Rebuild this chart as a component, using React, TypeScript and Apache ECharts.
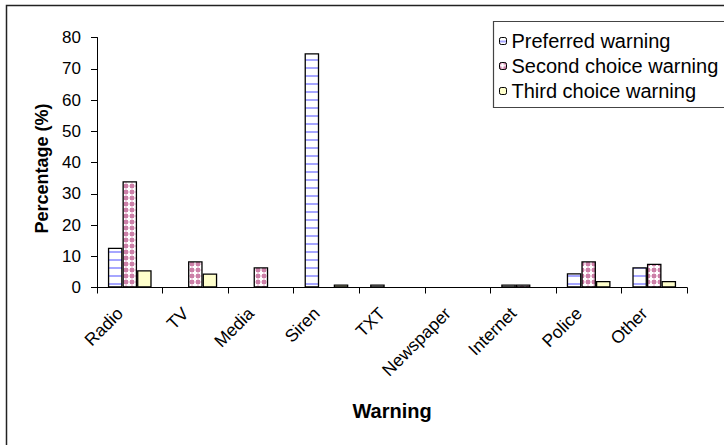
import React, { useEffect, useRef } from "react";
import * as echarts from "echarts";

const categories = ["Radio", "TV", "Media", "Siren", "TXT", "Newspaper", "Internet", "Police", "Other"];
const seriesNames = ["Preferred warning", "Second choice warning", "Third choice warning"];
const preferred = [12.7, 0, 0, 75, 1, 0, 1, 4.6, 6.5];
const secondChoice = [34, 8.4, 6.5, 0, 0, 0, 1, 8.4, 7.6];
const thirdChoice = [5.5, 4.5, 0, 1, 0, 0, 0, 2.1, 2.1];
const yTicks = [0, 10, 20, 30, 40, 50, 60, 70, 80];

const FONT = "Liberation Sans, Arial, sans-serif";

function stripePattern(): HTMLCanvasElement {
  const c = document.createElement("canvas");
  c.width = 8;
  c.height = 8;
  const ctx = c.getContext("2d")!;
  ctx.fillStyle = "#ffffff";
  ctx.fillRect(0, 0, 8, 8);
  ctx.fillStyle = "#a6a6ff";
  ctx.fillRect(0, 3, 8, 2);
  return c;
}

function crossPattern(): HTMLCanvasElement {
  const c = document.createElement("canvas");
  c.width = 6;
  c.height = 6;
  const ctx = c.getContext("2d")!;
  ctx.fillStyle = "#cc80a8";
  ctx.fillRect(0, 0, 6, 6);
  ctx.fillStyle = "#f0cfe0";
  ctx.fillRect(2, 0, 2, 6);
  ctx.fillRect(0, 2, 6, 2);
  ctx.fillStyle = "#ffffff";
  ctx.fillRect(2, 1, 2, 4);
  ctx.fillRect(1, 2, 4, 2);
  return c;
}

export default function App() {
  const ref = useRef<HTMLDivElement>(null);
  useEffect(() => {
    if (!ref.current) return;
    const chart = echarts.init(ref.current, null, { renderer: "svg" });
    const toBar = (arr: number[]) => arr.map((v) => (v === 0 ? "-" : v));
    const fills: any[] = [
      { image: stripePattern(), repeat: "repeat" },
      { image: crossPattern(), repeat: "repeat" },
      "#ffffcc",
    ];
    const datas = [preferred, secondChoice, thirdChoice];
    chart.setOption({
      animation: false,
      backgroundColor: "#ffffff",
      textStyle: { fontFamily: FONT },
      graphic: [
        {
          type: "rect",
          shape: { x: 6.5, y: 5.5, width: 800, height: 600 },
          style: { fill: "none", stroke: "#222", lineWidth: 1.5 },
          silent: true,
        },
        {
          type: "rect",
          shape: { x: 493.5, y: 21.5, width: 300, height: 86 },
          style: { fill: "#fff", stroke: "#444", lineWidth: 1.2 },
          silent: true,
          z: 1,
        },
      ],
      legend: {
        orient: "vertical",
        left: 499,
        top: 31,
        padding: 0,
        itemWidth: 7,
        itemHeight: 7,
        itemGap: 5,
        z: 10,
        data: seriesNames,
        itemStyle: { borderColor: "#000", borderWidth: 1 },
        textStyle: { fontFamily: FONT, fontSize: 20, color: "#000", lineHeight: 18 },
      },
      grid: { left: 97, top: 37.5, right: 37, bottom: 157.5, containLabel: false },
      xAxis: {
        type: "category",
        data: categories,
        name: "Warning",
        nameLocation: "middle",
        nameGap: 113,
        nameTextStyle: { fontFamily: FONT, fontSize: 20, fontWeight: "bold", color: "#000" },
        axisLine: { lineStyle: { color: "#000", width: 1 } },
        axisTick: { show: true, length: 6, lineStyle: { color: "#000" } },
        axisLabel: {
          rotate: 45,
          fontSize: 17.5,
          color: "#000",
          margin: 13,
          interval: 0,
          fontFamily: FONT,
          padding: [0, 14, 0, 0],
        },
      },
      yAxis: {
        type: "value",
        min: 0,
        max: 80,
        interval: 10,
        name: "Percentage (%)",
        nameLocation: "middle",
        nameGap: 46,
        nameTextStyle: { fontFamily: FONT, fontSize: 18, fontWeight: "bold", color: "#000", padding: [0, 12, 0, 0] },
        axisLine: { show: true, lineStyle: { color: "#000", width: 1 } },
        axisTick: { show: true, length: 6, lineStyle: { color: "#000" } },
        splitLine: { show: false },
        axisLabel: {
          fontSize: 17,
          color: "#000",
          margin: 16,
          fontFamily: FONT,
          formatter: (v: number) => (yTicks.includes(v) ? String(v) : ""),
        },
      },
      series: seriesNames.map((name, i) => ({
        name,
        type: "bar",
        data: toBar(datas[i]),
        barGap: "0%",
        barCategoryGap: "33.3%",
        itemStyle: { color: fills[i], borderColor: "#000", borderWidth: 1.3 },
      })),
    });
    return () => chart.dispose();
  }, []);
  return (
    <div
      ref={ref}
      style={{ position: "fixed", left: 0, top: 0, width: 724, height: 445 }}
    />
  );
}
